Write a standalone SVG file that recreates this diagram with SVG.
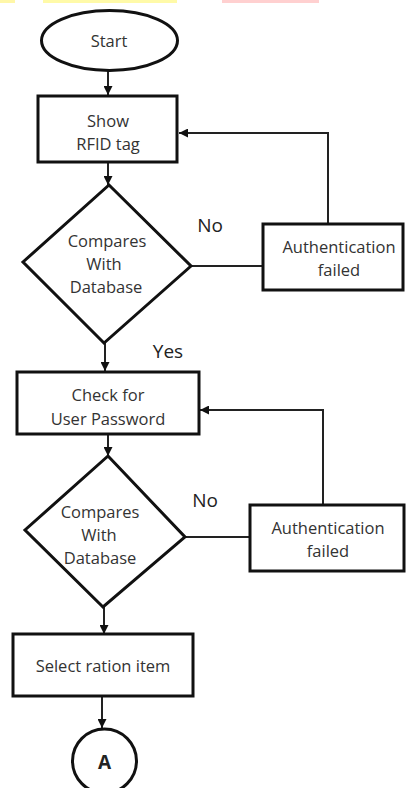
<svg xmlns="http://www.w3.org/2000/svg" width="407" height="788" viewBox="0 0 407 788">
  <defs>
    <marker id="arrow" viewBox="0 0 10 10" refX="10" refY="5" markerWidth="9" markerHeight="9" markerUnits="userSpaceOnUse" orient="auto">
      <path d="M0,0 L10,5 L0,10 z" fill="#111"/>
    </marker>
    <style>
      .shape { fill: #fff; stroke: #111; stroke-width: 3; }
      .edge { fill: none; stroke: #222; stroke-width: 2; }
      .lbl { font-family: "Open Sans", "DejaVu Sans", sans-serif; font-size: 16.5px; fill: #333; text-anchor: middle; dominant-baseline: central; }
      .cond { font-family: "Open Sans", "DejaVu Sans", sans-serif; font-size: 19px; fill: #222; text-anchor: middle; dominant-baseline: central; }
    </style>
  </defs>

  <rect width="407" height="788" fill="#fff"/>

  <!-- coloured strips along the top edge -->
  <rect x="0" y="0" width="15" height="3" fill="#fff7a8"/>
  <rect x="43" y="0" width="134" height="3" fill="#fffaa8"/>
  <rect x="222" y="0" width="97" height="3" fill="#ffd0d0"/>

  <g id="connectors">
    <line class="edge" x1="108" y1="71" x2="108" y2="95" marker-end="url(#arrow)"/>
    <line class="edge" x1="108" y1="162" x2="108" y2="185" marker-end="url(#arrow)"/>
    <line class="edge" x1="191" y1="266" x2="263" y2="266"/>
    <polyline class="edge" points="328,224 328,133 179,133" marker-end="url(#arrow)"/>
    <line class="edge" x1="105" y1="343" x2="105" y2="371" marker-end="url(#arrow)"/>
    <line class="edge" x1="108" y1="434" x2="108" y2="456" marker-end="url(#arrow)"/>
    <line class="edge" x1="185" y1="537" x2="250" y2="537"/>
    <polyline class="edge" points="323,505 323,410 200,410" marker-end="url(#arrow)"/>
    <line class="edge" x1="104" y1="607" x2="104" y2="634" marker-end="url(#arrow)"/>
    <line class="edge" x1="102" y1="696" x2="102" y2="728" marker-end="url(#arrow)"/>
  </g>

  <g id="start">
    <ellipse class="shape" cx="109.5" cy="40.5" rx="68" ry="30"/>
    <text class="lbl" x="109" y="40">Start</text>
  </g>

  <g id="show-rfid">
    <rect class="shape" x="38" y="96" width="139" height="66"/>
    <text class="lbl" x="108" y="120">Show</text>
    <text class="lbl" x="108" y="143">RFID tag</text>
  </g>

  <g id="compare-rfid">
    <polygon class="shape" points="109,185 191,266 104,343 23,262"/>
    <text class="lbl" x="107" y="240">Compares</text>
    <text class="lbl" x="104" y="263">With</text>
    <text class="lbl" x="106" y="286">Database</text>
  </g>

  <g id="no-1">
    <text class="cond" x="210" y="225">No</text>
  </g>

  <g id="auth-failed-1">
    <rect class="shape" x="263" y="224" width="140" height="66"/>
    <text class="lbl" x="339" y="246">Authentication</text>
    <text class="lbl" x="339" y="269">failed</text>
  </g>

  <g id="yes">
    <text class="cond" x="168" y="351">Yes</text>
  </g>

  <g id="check-password">
    <rect class="shape" x="17" y="372" width="182" height="62"/>
    <text class="lbl" x="108" y="394">Check for</text>
    <text class="lbl" x="108" y="418">User Password</text>
  </g>

  <g id="compare-password">
    <polygon class="shape" points="108,456 185,537 103,607 25,530"/>
    <text class="lbl" x="100" y="511">Compares</text>
    <text class="lbl" x="99" y="534">With</text>
    <text class="lbl" x="100" y="557">Database</text>
  </g>

  <g id="no-2">
    <text class="cond" x="205" y="500">No</text>
  </g>

  <g id="auth-failed-2">
    <rect class="shape" x="250" y="505" width="154" height="66"/>
    <text class="lbl" x="328" y="527">Authentication</text>
    <text class="lbl" x="328" y="550">failed</text>
  </g>

  <g id="select-item">
    <rect class="shape" x="13" y="634" width="180" height="62"/>
    <text class="lbl" x="103" y="665">Select ration item</text>
  </g>

  <g id="connector-a">
    <circle class="shape" cx="104.5" cy="761" r="32"/>
    <text class="cond" x="104.5" y="762" font-weight="bold" font-size="18">A</text>
  </g>
</svg>
